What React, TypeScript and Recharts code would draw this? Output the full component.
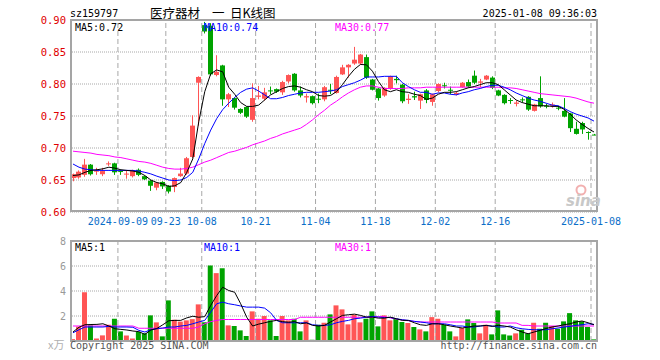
import React from "react"
import { Bar, CartesianGrid, Cell, ComposedChart, Line, ReferenceLine, XAxis, YAxis } from "recharts"

const RED = "#ff5555"
const GREEN = "#00a300"
const MONO = "'DejaVu Sans Mono', monospace"
const CJK = "'Noto Sans CJK SC', sans-serif"
const GRID = "#a8a8a8"

// trading days, 2024-08-28 .. 2025-01-08
const dates = [
  "2024-08-28", "2024-08-29", "2024-08-30", "2024-09-02", "2024-09-03", "2024-09-04", "2024-09-05", "2024-09-06",
  "2024-09-09", "2024-09-10", "2024-09-11", "2024-09-12", "2024-09-13", "2024-09-18", "2024-09-19", "2024-09-20",
  "2024-09-23", "2024-09-24", "2024-09-25", "2024-09-26", "2024-09-27", "2024-09-30", "2024-10-08", "2024-10-09",
  "2024-10-10", "2024-10-11", "2024-10-14", "2024-10-15", "2024-10-16", "2024-10-17", "2024-10-18", "2024-10-21",
  "2024-10-22", "2024-10-23", "2024-10-24", "2024-10-25", "2024-10-28", "2024-10-29", "2024-10-30", "2024-10-31",
  "2024-11-01", "2024-11-04", "2024-11-05", "2024-11-06", "2024-11-07", "2024-11-08", "2024-11-11", "2024-11-12",
  "2024-11-13", "2024-11-14", "2024-11-15", "2024-11-18", "2024-11-19", "2024-11-20", "2024-11-21", "2024-11-22",
  "2024-11-25", "2024-11-26", "2024-11-27", "2024-11-28", "2024-11-29", "2024-12-02", "2024-12-03", "2024-12-04",
  "2024-12-05", "2024-12-06", "2024-12-09", "2024-12-10", "2024-12-11", "2024-12-12", "2024-12-13", "2024-12-16",
  "2024-12-17", "2024-12-18", "2024-12-19", "2024-12-20", "2024-12-23", "2024-12-24", "2024-12-25", "2024-12-26",
  "2024-12-27", "2024-12-30", "2024-12-31", "2025-01-02", "2025-01-03", "2025-01-06", "2025-01-07", "2025-01-08",
]

const tickLabels: Record<string, string> = {
  "2024-09-09": "2024-09-09",
  "2024-09-23": "09-23",
  "2024-10-08": "10-08",
  "2024-10-21": "10-21",
  "2024-11-04": "11-04",
  "2024-11-18": "11-18",
  "2024-12-02": "12-02",
  "2024-12-16": "12-16",
  "2025-01-08": "2025-01-08",
}
const tickDates = Object.keys(tickLabels)

const open = [
  0.653, 0.654, 0.658, 0.674, 0.663, 0.659, 0.675, 0.676, 0.664, 0.659,
  0.656, 0.666, 0.656, 0.649, 0.638, 0.647, 0.641, 0.639, 0.656, 0.660,
  0.686, 0.802, 0.892, 0.891, 0.814, 0.829, 0.776, 0.778, 0.761, 0.764,
  0.744, 0.780, 0.777, 0.790, 0.792, 0.787, 0.804, 0.816, 0.790, 0.779,
  0.781, 0.777, 0.776, 0.791, 0.786, 0.815, 0.826, 0.832, 0.832, 0.842,
  0.807, 0.793, 0.782, 0.793, 0.808, 0.799, 0.775, 0.781, 0.774, 0.790,
  0.772, 0.789, 0.798, 0.791, 0.784, 0.795, 0.803, 0.813, 0.802, 0.807,
  0.810, 0.790, 0.783, 0.775, 0.769, 0.776, 0.780, 0.758, 0.778, 0.766,
  0.766, 0.763, 0.758, 0.754, 0.730, 0.739, 0.725, 0.721,
]
const high = [
  0.660, 0.665, 0.683, 0.675, 0.669, 0.669, 0.679, 0.677, 0.666, 0.664,
  0.666, 0.668, 0.657, 0.650, 0.647, 0.648, 0.642, 0.654, 0.669, 0.686,
  0.751, 0.812, 0.897, 0.895, 0.845, 0.830, 0.786, 0.779, 0.762, 0.765,
  0.801, 0.797, 0.794, 0.796, 0.793, 0.805, 0.815, 0.817, 0.796, 0.785,
  0.782, 0.785, 0.797, 0.800, 0.813, 0.830, 0.831, 0.858, 0.847, 0.846,
  0.808, 0.794, 0.795, 0.813, 0.813, 0.800, 0.784, 0.788, 0.785, 0.792,
  0.785, 0.801, 0.802, 0.796, 0.788, 0.803, 0.807, 0.821, 0.808, 0.814,
  0.812, 0.791, 0.784, 0.778, 0.774, 0.779, 0.781, 0.769, 0.812, 0.769,
  0.771, 0.766, 0.778, 0.755, 0.741, 0.741, 0.726, 0.722,
]
const low = [
  0.648, 0.652, 0.655, 0.657, 0.658, 0.656, 0.672, 0.658, 0.658, 0.652,
  0.654, 0.656, 0.650, 0.633, 0.634, 0.636, 0.629, 0.631, 0.655, 0.658,
  0.684, 0.735, 0.879, 0.813, 0.812, 0.766, 0.764, 0.760, 0.753, 0.747,
  0.741, 0.776, 0.774, 0.784, 0.786, 0.783, 0.801, 0.788, 0.779, 0.771,
  0.768, 0.770, 0.773, 0.784, 0.785, 0.814, 0.810, 0.830, 0.830, 0.808,
  0.790, 0.774, 0.780, 0.791, 0.801, 0.770, 0.769, 0.775, 0.761, 0.770,
  0.766, 0.787, 0.793, 0.784, 0.782, 0.794, 0.794, 0.800, 0.795, 0.806,
  0.792, 0.781, 0.768, 0.769, 0.765, 0.771, 0.758, 0.757, 0.763, 0.762,
  0.763, 0.759, 0.748, 0.725, 0.721, 0.722, 0.713, 0.720,
]
const close = [
  0.659, 0.663, 0.674, 0.659, 0.665, 0.664, 0.676, 0.662, 0.663, 0.660,
  0.664, 0.658, 0.651, 0.641, 0.646, 0.640, 0.632, 0.653, 0.660, 0.684,
  0.735, 0.811, 0.882, 0.815, 0.819, 0.776, 0.784, 0.763, 0.755, 0.749,
  0.778, 0.782, 0.787, 0.789, 0.788, 0.803, 0.814, 0.790, 0.782, 0.781,
  0.770, 0.776, 0.795, 0.790, 0.811, 0.826, 0.830, 0.838, 0.846, 0.810,
  0.791, 0.778, 0.794, 0.812, 0.806, 0.773, 0.777, 0.779, 0.784, 0.775,
  0.784, 0.800, 0.797, 0.790, 0.786, 0.802, 0.796, 0.802, 0.804, 0.813,
  0.794, 0.782, 0.770, 0.774, 0.771, 0.775, 0.760, 0.768, 0.765, 0.765,
  0.768, 0.762, 0.749, 0.731, 0.722, 0.729, 0.724, 0.7205,
]

const ma5 = [
  0.657, 0.658, 0.662, 0.665, 0.666, 0.6675, 0.670, 0.6685, 0.666, 0.665,
  0.664, 0.662, 0.657, 0.650, 0.646, 0.644, 0.640, 0.641, 0.646, 0.662,
  0.683, 0.741, 0.788, 0.816, 0.822, 0.819, 0.795, 0.784, 0.771, 0.765,
  0.765, 0.767, 0.775, 0.783, 0.788, 0.793, 0.796, 0.797, 0.795, 0.791,
  0.788, 0.782, 0.781, 0.782, 0.788, 0.799, 0.812, 0.823, 0.8305, 0.830,
  0.820, 0.804, 0.791, 0.788, 0.791, 0.788, 0.787, 0.784, 0.782, 0.776,
  0.778, 0.784, 0.787, 0.787, 0.788, 0.791, 0.794, 0.796, 0.799, 0.802,
  0.802, 0.799, 0.791, 0.783, 0.775, 0.771, 0.7685, 0.766, 0.766, 0.766,
  0.765, 0.765, 0.7606, 0.753, 0.744, 0.737, 0.7306, 0.725,
]
const ma10 = [
  0.675, 0.670, 0.667, 0.666, 0.665, 0.665, 0.665, 0.665, 0.665, 0.665,
  0.665, 0.664, 0.662, 0.6595, 0.656, 0.653, 0.650, 0.649, 0.650, 0.654,
  0.662, 0.683, 0.707, 0.728, 0.746, 0.760, 0.770, 0.779, 0.787, 0.792,
  0.794, 0.789, 0.783, 0.777, 0.777, 0.779, 0.782, 0.784, 0.786, 0.787,
  0.787, 0.787, 0.788, 0.789, 0.791, 0.796, 0.799, 0.802, 0.806, 0.811,
  0.811, 0.811, 0.812, 0.812, 0.812, 0.802, 0.796, 0.791, 0.787, 0.787,
  0.784, 0.786, 0.786, 0.784, 0.783, 0.786, 0.788, 0.791, 0.793, 0.796,
  0.798, 0.798, 0.795, 0.791, 0.786, 0.782, 0.778, 0.775, 0.773, 0.770,
  0.767, 0.766, 0.762, 0.757, 0.753, 0.750, 0.747, 0.742,
]
const ma30 = [
  0.695, 0.694, 0.693, 0.692, 0.690, 0.689, 0.688, 0.686, 0.685, 0.683,
  0.681, 0.679, 0.678, 0.676, 0.673, 0.670, 0.668, 0.667, 0.667, 0.668,
  0.670, 0.674, 0.678, 0.681, 0.685, 0.689, 0.693, 0.695, 0.698, 0.701,
  0.705, 0.708, 0.711, 0.715, 0.718, 0.722, 0.725, 0.728, 0.731, 0.737,
  0.744, 0.752, 0.759, 0.767, 0.773, 0.780, 0.786, 0.791, 0.795, 0.797,
  0.797, 0.795, 0.793, 0.793, 0.793, 0.793, 0.794, 0.794, 0.794, 0.795,
  0.795, 0.795, 0.795, 0.795, 0.795, 0.795, 0.795, 0.795, 0.795, 0.795,
  0.795, 0.795, 0.794, 0.794, 0.793, 0.791, 0.789, 0.787, 0.785, 0.784,
  0.783, 0.782, 0.781, 0.780, 0.778, 0.775, 0.772, 0.770,
]

// volume, 万手
const vol = [
  0.15, 1.15, 3.9, 1.25, 0.2, 0.45, 1.3, 1.78, 0.77, 0.45,
  0.2, 0.72, 0.62, 2.05, 1.49, 0.37, 3.25, 1.7, 1.55, 1.65,
  1.75, 2.93, 1.5, 6.04, 5.43, 5.82, 1.25, 1.2, 0.85, 0.4,
  2.37, 1.78, 2.0, 1.65, 0.4, 2.0, 1.65, 1.78, 0.77, 1.65,
  0.1, 1.3, 1.46, 2.13, 2.85, 2.53, 1.33, 2.1, 1.49, 1.78,
  2.37, 1.17, 2.05, 1.65, 1.78, 1.52, 1.44, 1.12, 0.93, 0.77,
  1.91, 1.78, 1.3, 0.77, 0.37, 1.04, 1.73, 1.44, 0.61, 1.3,
  0.53, 2.45, 0.53, 0.45, 0.61, 0.9, 0.61, 1.46, 0.98, 1.46,
  1.2, 0.98, 1.57, 2.23, 1.65, 1.57, 1.12, 0.13,
]
const vma5 = [
  0.72, 1.1, 1.3, 1.32, 1.33, 1.38, 1.2, 0.98, 0.93, 0.88,
  0.8, 0.75, 0.53, 0.88, 1.0, 1.3, 1.62, 1.65, 1.65, 1.85,
  1.98, 1.9, 1.95, 2.85, 3.64, 4.3, 4.04, 3.9, 2.98, 1.91,
  1.2, 1.35, 1.46, 1.57, 1.65, 1.55, 1.5, 1.55, 1.38, 1.45,
  1.25, 1.2, 1.25, 1.52, 1.78, 2.05, 2.1, 2.15, 2.05, 1.91,
  1.91, 1.83, 1.83, 1.91, 1.78, 1.65, 1.65, 1.46, 1.3, 1.25,
  1.38, 1.38, 1.3, 1.2, 1.12, 1.04, 1.12, 1.2, 1.2, 1.25,
  1.17, 1.25, 1.2, 1.12, 0.9, 0.72, 0.58, 0.72, 0.85, 1.0,
  1.12, 1.2, 1.3, 1.38, 1.52, 1.6, 1.46, 1.3,
]
const vma10 = [
  0.66, 0.9, 1.12, 1.12, 1.12, 1.12, 1.17, 1.12, 1.12, 1.12,
  1.1, 0.85, 0.72, 0.9, 0.98, 1.04, 1.12, 1.12, 1.2, 1.25,
  1.38, 1.52, 1.65, 2.31, 2.98, 3.11, 2.98, 2.9, 2.8, 2.71,
  2.71, 2.71, 2.63, 2.26, 1.65, 1.46, 1.46, 1.46, 1.46, 1.46,
  1.3, 1.25, 1.25, 1.3, 1.46, 1.57, 1.65, 1.78, 1.83, 1.91,
  1.97, 1.91, 1.88, 1.88, 1.78, 1.7, 1.65, 1.57, 1.52, 1.46,
  1.38, 1.38, 1.38, 1.3, 1.2, 1.2, 1.12, 1.12, 1.2, 1.25,
  1.2, 1.12, 1.12, 1.2, 1.06, 0.98, 0.93, 0.9, 0.9, 0.9,
  0.98, 1.04, 1.12, 1.17, 1.25, 1.3, 1.38, 1.33,
]
const vma30 = [
  1.2, 1.2, 1.2, 1.2, 1.2, 1.2, 1.2, 1.2, 1.2, 1.2,
  1.2, 1.02, 1.02, 1.02, 1.02, 1.02, 1.02, 1.02, 1.02, 1.02,
  1.02, 1.12, 1.38, 1.55, 1.65, 1.72, 1.72, 1.72, 1.72, 1.72,
  1.72, 1.72, 1.72, 1.72, 1.72, 1.72, 1.72, 1.72, 1.9, 1.9,
  1.9, 1.9, 1.9, 1.9, 1.9, 1.9, 1.9, 1.9, 1.9, 1.9,
  1.9, 1.95, 1.95, 1.85, 1.75, 1.68, 1.62, 1.57, 1.52, 1.52,
  1.52, 1.52, 1.52, 1.52, 1.52, 1.52, 1.52, 1.52, 1.52, 1.52,
  1.52, 1.44, 1.44, 1.44, 1.44, 1.25, 1.25, 1.2, 1.2, 1.2,
  1.2, 1.2, 1.2, 1.2, 1.2, 1.2, 1.2, 1.2,
]

const priceTicks = [0.6, 0.65, 0.7, 0.75, 0.8, 0.85, 0.9]
const volTicks = [0, 2, 4, 6, 8]

const rows = dates.map((date, i) => ({
  date,
  open: open[i],
  high: high[i],
  low: low[i],
  close: close[i],
  range: [low[i], high[i]],
  ma5: ma5[i],
  ma10: ma10[i],
  ma30: ma30[i],
  vol: vol[i],
  vma5: vma5[i],
  vma10: vma10[i],
  vma30: vma30[i],
}))

function Candle(props: any) {
  const { x, y, width, height, payload } = props
  if (x == null || y == null || !payload) return null
  const top = Math.min(y, y + height)
  const h = Math.abs(height)
  const span = payload.high - payload.low
  const k = span > 0 ? h / span : 0
  const yOf = (v: number) => top + (payload.high - v) * k
  const up = payload.close >= payload.open
  const color = up ? RED : GREEN
  const bTop = yOf(Math.max(payload.open, payload.close))
  const bBot = yOf(Math.min(payload.open, payload.close))
  const cx = Math.round(x + width / 2) + 0.5
  return (
    <g>
      <line x1={cx} x2={cx} y1={top} y2={top + h} stroke={color} strokeWidth={1} />
      <rect x={cx - 2.5} y={bTop} width={5} height={Math.max(1, bBot - bTop)} fill={color} />
    </g>
  )
}

function DateTick(props: any) {
  const { x, y, payload } = props
  return (
    <text x={x - 3} y={y + 9} textAnchor="middle" fill="#0a6ec8" fontSize={10} fontFamily={MONO}>
      {tickLabels[payload.value]}
    </text>
  )
}

const frame = (top: number, height: number): React.CSSProperties => ({
  position: "absolute",
  left: 70,
  top,
  width: 528,
  height,
  border: "2px solid #a5a5a5",
  boxSizing: "border-box",
  pointerEvents: "none",
})

export default function App() {
  return (
    <div style={{ position: "relative", width: 660, height: 360, background: "#fff", overflow: "hidden" }}>
      <style>{`body{margin:0}`}</style>

      <div style={{ position: "absolute", left: 0, top: 0 }}>
        <ComposedChart width={660} height={232} data={rows} margin={{ top: 20, right: 63, bottom: 0, left: 10 }}>
          <CartesianGrid vertical={false} stroke={GRID} strokeDasharray="1 1" />
          {tickDates.map((d) => (
            <ReferenceLine key={d} x={d} position="start" stroke={GRID} strokeDasharray="5 3" />
          ))}
          <XAxis
            dataKey="date"
            ticks={tickDates}
            interval={0}
            tickSize={0}
            tickMargin={4}
            axisLine={false}
            height={20}
            tick={<DateTick />}
          />
          <YAxis
            domain={[0.6, 0.9]}
            ticks={priceTicks}
            allowDataOverflow
            width={60}
            tickSize={0}
            tickMargin={4}
            axisLine={false}
            tick={{ fill: "#e00000", fontSize: 10.5, fontFamily: MONO }}
            tickFormatter={(v: number) => v.toFixed(2)}
          />
          <Bar dataKey="range" barSize={5} shape={(p: any) => <Candle {...p} />} isAnimationActive={false} />
          <Line type="linear" dataKey="ma30" stroke="#ff00ff" strokeWidth={1} dot={false} activeDot={false} isAnimationActive={false} />
          <Line type="linear" dataKey="ma10" stroke="#0000ff" strokeWidth={1} dot={false} activeDot={false} isAnimationActive={false} />
          <Line type="linear" dataKey="ma5" stroke="#000000" strokeWidth={1} dot={false} activeDot={false} isAnimationActive={false} />
        </ComposedChart>
      </div>

      <div style={{ position: "absolute", left: 0, top: 232 }}>
        <ComposedChart width={660} height={128} data={rows} margin={{ top: 9, right: 63, bottom: 19, left: 10 }}>
          <CartesianGrid vertical={false} stroke={GRID} strokeDasharray="1 1" />
          {tickDates.map((d) => (
            <ReferenceLine key={d} x={d} position="start" stroke={GRID} strokeDasharray="5 3" />
          ))}
          <XAxis dataKey="date" hide />
          <YAxis
            domain={[0, 8]}
            ticks={volTicks}
            allowDataOverflow
            width={60}
            tickSize={0}
            tickMargin={4}
            axisLine={false}
            tick={{ fill: "#999999", fontSize: 10, fontFamily: MONO }}
            tickFormatter={(v: number) => (v === 0 ? "" : String(v))}
          />
          <Bar dataKey="vol" barSize={5} isAnimationActive={false}>
            {rows.map((r, i) => (
              <Cell key={i} fill={r.close >= r.open ? RED : GREEN} />
            ))}
          </Bar>
          <Line type="linear" dataKey="vma30" stroke="#ff00ff" strokeWidth={1} dot={false} activeDot={false} isAnimationActive={false} />
          <Line type="linear" dataKey="vma10" stroke="#0000ff" strokeWidth={1} dot={false} activeDot={false} isAnimationActive={false} />
          <Line type="linear" dataKey="vma5" stroke="#000000" strokeWidth={1} dot={false} activeDot={false} isAnimationActive={false} />
        </ComposedChart>
      </div>

      <div style={frame(19, 193)} />
      <div style={frame(240, 102)} />

      <svg width={660} height={360} style={{ position: "absolute", left: 0, top: 0, pointerEvents: "none" }}>
        <text x={70} y={17} fontSize={10} fontFamily={MONO} fill="#000">sz159797</text>
        <text x={150} y={17.5} fontSize={12.5} fontFamily={CJK} fill="#000">医疗器材</text>
        <text x={212} y={17.5} fontSize={12.5} fontFamily={CJK} fill="#000">一</text>
        <text x={230} y={17.5} fontSize={12.5} fontFamily={CJK} fill="#000">日K线图</text>
        <text x={597} y={17} fontSize={10} fontFamily={MONO} fill="#000" textAnchor="end">2025-01-08 09:36:03</text>

        <text x={75} y={31} fontSize={10} fontFamily={MONO} fill="#000">MA5:0.72</text>
        <text x={204} y={31} fontSize={10} fontFamily={MONO} fill="#0000ff">MA10:0.74</text>
        <text x={335} y={31} fontSize={10} fontFamily={MONO} fill="#ff00ff">MA30:0.77</text>

        <text x={75} y={251} fontSize={10} fontFamily={MONO} fill="#000">MA5:1</text>
        <text x={204} y={251} fontSize={10} fontFamily={MONO} fill="#0000ff">MA10:1</text>
        <text x={335} y={251} fontSize={10} fontFamily={MONO} fill="#ff00ff">MA30:1</text>

        <circle cx={581} cy={190} r={4.5} fill="none" stroke="#f2b0b0" strokeWidth={2} />
        <text x={566} y={206} fontSize={15} fontWeight="bold" fontStyle="italic" fontFamily="'DejaVu Sans', sans-serif" fill="#c8c8c8">sina</text>

        <text x={48} y={349} fontSize={11} fontFamily={CJK} fill="#b0b0b0">x万</text>
        <text x={70} y={349} fontSize={10} fontFamily={MONO} fill="#555">Copyright 2025 SINA.COM</text>
        <text x={597} y={349} fontSize={10} fontFamily={MONO} fill="#555" textAnchor="end">http://finance.sina.com.cn</text>
      </svg>
    </div>
  )
}
